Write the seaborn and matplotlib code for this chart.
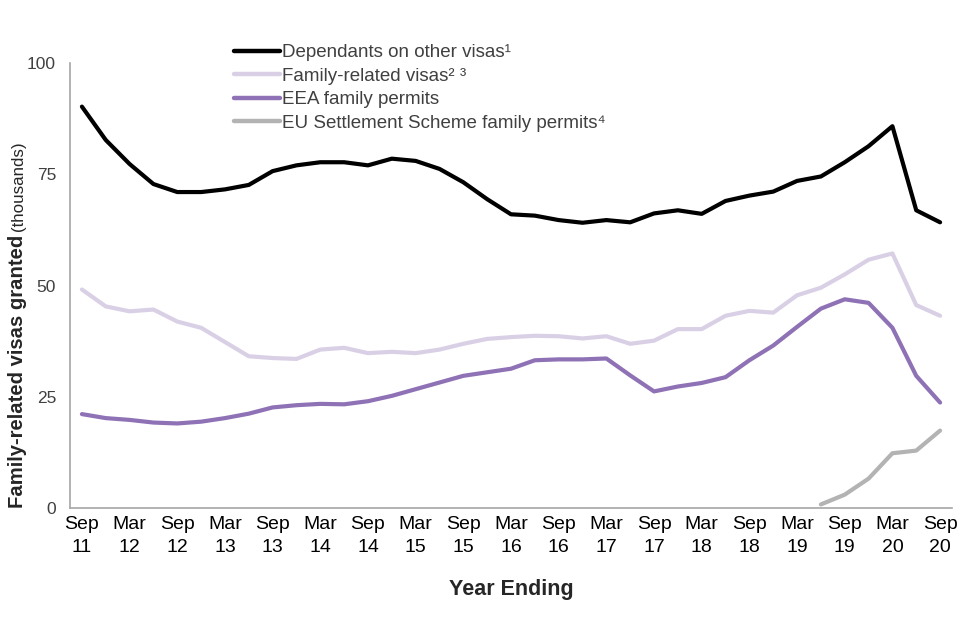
import numpy as np
import pandas as pd
import matplotlib
matplotlib.use('Agg')
import matplotlib.pyplot as plt
import seaborn as sns

# quarters, year ending Sep 11 .. Sep 20
quarters = ['Sep 11', 'Dec 11', 'Mar 12', 'Jun 12', 'Sep 12', 'Dec 12', 'Mar 13', 'Jun 13',
            'Sep 13', 'Dec 13', 'Mar 14', 'Jun 14', 'Sep 14', 'Dec 14', 'Mar 15', 'Jun 15',
            'Sep 15', 'Dec 15', 'Mar 16', 'Jun 16', 'Sep 16', 'Dec 16', 'Mar 17', 'Jun 17',
            'Sep 17', 'Dec 17', 'Mar 18', 'Jun 18', 'Sep 18', 'Dec 18', 'Mar 19', 'Jun 19',
            'Sep 19', 'Dec 19', 'Mar 20', 'Jun 20', 'Sep 20']

dependants = [90.2, 82.7, 77.3, 72.8, 71.0, 71.0, 71.6, 72.6, 75.7, 77.0, 77.7, 77.7,
              77.0, 78.5, 78.0, 76.2, 73.2, 69.4, 66.0, 65.7, 64.7, 64.1, 64.7, 64.2,
              66.2, 66.9, 66.1, 69.0, 70.2, 71.1, 73.5, 74.5, 77.7, 81.3, 85.8, 66.9, 64.2]

family_visas = [49.1, 45.3, 44.2, 44.6, 41.9, 40.5, 37.3, 34.1, 33.7, 33.5, 35.6, 36.0,
                34.8, 35.1, 34.8, 35.6, 36.9, 38.0, 38.4, 38.7, 38.6, 38.1, 38.6, 36.9,
                37.6, 40.2, 40.2, 43.2, 44.3, 43.9, 47.8, 49.5, 52.5, 55.8, 57.2, 45.6, 43.2]

eea_permits = [21.1, 20.2, 19.8, 19.2, 19.0, 19.4, 20.2, 21.2, 22.6, 23.1, 23.4, 23.3,
               24.0, 25.2, 26.7, 28.2, 29.7, 30.5, 31.3, 33.2, 33.4, 33.4, 33.6, 29.8,
               26.2, 27.3, 28.1, 29.4, 33.2, 36.5, 40.7, 44.8, 46.9, 46.1, 40.5, 29.7, 23.7]

# EU Settlement Scheme family permits start in Jun 19
euss_start = 31
euss_permits = [0.8, 3.0, 6.6, 12.3, 12.9, 17.4]

series_names = ['Dependants on other visas¹', 'Family-related visas² ³',
                'EEA family permits', 'EU Settlement Scheme family permits⁴']
colors = ['#000000', '#d9d0e6', '#8e72b5', '#b3b3b3']

rows = []
for name, vals, start in zip(series_names,
                             [dependants, family_visas, eea_permits, euss_permits],
                             [0, 0, 0, euss_start]):
    for k, v in enumerate(vals):
        rows.append({'q': start + k, 'value': v, 'series': name})
df = pd.DataFrame(rows)

sns.set_style('white')
plt.rcParams['font.family'] = ['Liberation Sans', 'DejaVu Sans']

fig = plt.figure(figsize=(9.6, 6.4), dpi=100)
ax = fig.add_axes([70 / 960, 1 - 508 / 640, 882 / 960, 445 / 640])

sns.lineplot(data=df, x='q', y='value', hue='series', hue_order=series_names,
             palette=colors, linewidth=3.0, ax=ax, legend=True)

ax.set_xlim(-0.5, len(quarters) - 0.5)
ax.set_ylim(0, 100)
ax.set_yticks([0, 25, 50, 75, 100])

# tick marks between categories, labels every second quarter
ax.set_xticks(np.arange(-0.5, len(quarters), 1))
ax.set_xticklabels([])
label_pos = list(range(0, len(quarters), 2))
ax.set_xticks(label_pos, minor=True)
ax.set_xticklabels([quarters[i].replace(' ', '\n') for i in label_pos], minor=True)
ax.tick_params(axis='x', which='major', length=5, width=1, color='#a6a6a6', direction='out')
ax.tick_params(axis='x', which='minor', length=0, labelsize=14, labelcolor='black', pad=6)
ax.tick_params(axis='y', length=4, width=1, color='#a6a6a6', direction='out',
               labelsize=12.5, labelcolor='#404040', pad=6)
for lbl in ax.get_xticklabels(minor=True):
    lbl.set_linespacing(1.4)

for s in ['top', 'right']:
    ax.spines[s].set_visible(False)
for s in ['left', 'bottom']:
    ax.spines[s].set_color('#a6a6a6')
    ax.spines[s].set_linewidth(1.2)

ax.set_xlabel('Year Ending', fontsize=15.5, fontweight='bold', labelpad=17)
ax.set_ylabel('')

sns.move_legend(ax, loc='upper left', bbox_to_anchor=(234 / 960, 1 - 44 / 640),
                bbox_transform=fig.transFigure, frameon=False, title=None,
                fontsize=13.5, handlelength=2.45, handletextpad=0.12,
                labelspacing=0.34, borderpad=0, borderaxespad=0)
for t in ax.get_legend().get_texts():
    t.set_color('#404040')
for h in ax.get_legend().legend_handles:
    h.set_linewidth(3.2)

# y-axis label: bold part + normal part
t1 = fig.text(18 / 960, 1 - 508 / 640, 'Family-related visas granted', rotation=90,
              fontsize=14.6, fontweight='bold', ha='center', va='bottom')
fig.canvas.draw()
bb = t1.get_window_extent(fig.canvas.get_renderer()).transformed(fig.transFigure.inverted())
fig.text(19 / 960, bb.y1 + 4 / 640, '(thousands)', rotation=90,
         fontsize=12.2, ha='center', va='bottom')

fig.savefig('out.png', dpi=100)
